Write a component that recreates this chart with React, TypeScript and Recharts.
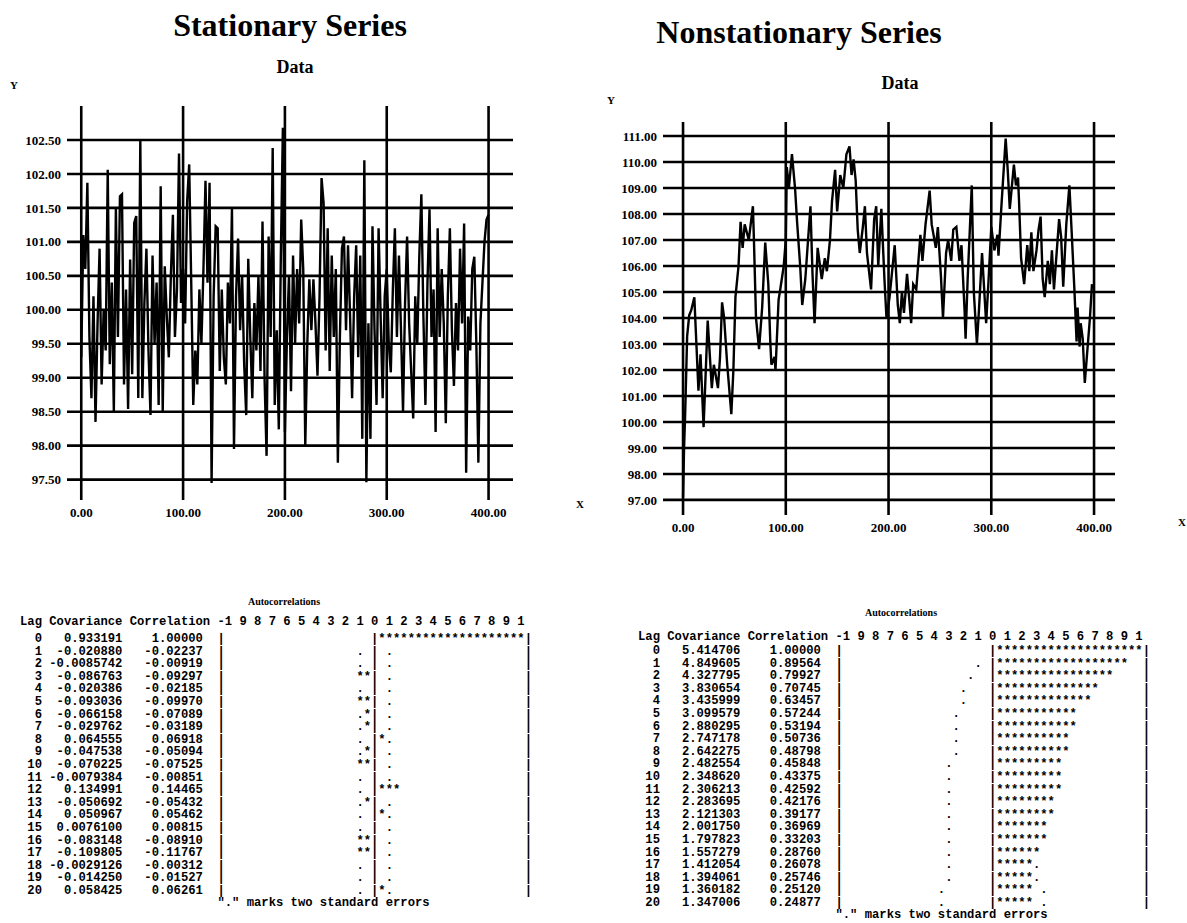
import React from 'react';
import { LineChart, Line, XAxis, YAxis, ReferenceLine } from 'recharts';

const stationaryT = [
  0, 2, 4, 6, 8, 10, 12, 14, 16, 18, 20, 22, 24, 26, 28, 30, 32, 34, 36, 38,
  40, 42, 44, 46, 48, 50, 52, 54, 56, 58, 60, 62, 64, 66, 68, 70, 72, 74, 76, 78,
  80, 82, 84, 86, 88, 90, 92, 94, 96, 98, 100, 102, 104, 106, 108, 110, 112, 114, 116, 118,
  120, 122, 124, 126, 128, 130, 132, 134, 136, 138, 140, 142, 144, 146, 148, 150, 152, 154, 156, 158,
  160, 162, 164, 166, 168, 170, 172, 174, 176, 178, 180, 182, 184, 186, 188, 190, 192, 194, 196, 198,
  200, 202, 204, 206, 208, 210, 212, 214, 216, 218, 220, 222, 224, 226, 228, 230, 232, 234, 236, 238,
  240, 242, 244, 246, 248, 250, 252, 254, 256, 258, 260, 262, 264, 266, 268, 270, 272, 274, 276, 278,
  280, 282, 284, 286, 288, 290, 292, 294, 296, 298, 300, 302, 304, 306, 308, 310, 312, 314, 316, 318,
  320, 322, 324, 326, 328, 330, 332, 334, 336, 338, 340, 342, 344, 346, 348, 350, 352, 354, 356, 358,
  360, 362, 364, 366, 368, 370, 372, 374, 376, 378, 380, 382, 384, 386, 388, 390, 392, 394, 396, 398,
  400,
];
const stationaryV = [
  99.3, 101.1, 100.6, 101.87, 99.6, 98.7, 100.2, 98.35, 99.8, 100.9, 98.9, 100.0, 99.4, 102.06, 99.2, 100.4, 98.5, 101.5, 99.6, 101.67,
  101.7, 98.9, 100.3, 98.54, 100.74, 99.05, 101.28, 101.38, 98.7, 102.5, 98.7, 100.1, 100.9, 99.4, 98.45, 100.8, 99.5, 100.4, 98.6, 101.82,
  98.5, 100.64, 99.9, 99.3, 100.5, 101.4, 99.6, 100.3, 102.3, 100.1, 100.6, 99.8, 101.6, 102.14, 100.4, 98.6, 99.4, 98.9, 100.3, 99.5,
  100.6, 101.9, 100.4, 101.87, 97.45, 100.2, 101.23, 101.2, 99.1, 100.3, 99.3, 98.9, 100.4, 99.8, 101.5, 97.95, 100.2, 101.05, 99.7, 100.5,
  99.2, 98.45, 100.75, 99.6, 98.7, 100.1, 99.4, 100.5, 99.1, 101.3, 99.0, 97.85, 101.08, 99.6, 102.38, 98.6, 99.7, 98.24, 100.8, 102.68,
  98.2, 99.6, 100.5, 98.8, 100.8, 99.5, 100.6, 99.8, 101.33, 100.6, 98.0, 99.5, 100.45, 99.7, 100.45, 99.8, 99.03, 100.2, 101.94, 101.57,
  99.4, 101.2, 99.1, 100.8, 99.6, 100.6, 97.75, 99.6, 100.9, 101.08, 99.7, 100.95, 99.9, 98.7, 100.2, 100.95, 99.3, 100.8, 98.1, 102.2,
  97.46, 99.8, 98.1, 101.23, 99.7, 98.6, 101.2, 99.9, 98.7, 100.2, 100.6, 99.5, 99.08, 100.3, 101.2, 99.6, 100.8, 99.7, 98.5, 100.1,
  101.08, 99.8, 99.1, 98.4, 100.2, 99.5, 100.8, 101.7, 99.9, 98.6, 100.4, 101.48, 99.6, 100.3, 98.2, 101.2, 99.6, 100.6, 99.8, 98.33,
  100.2, 101.2, 99.7, 98.88, 100.1, 99.4, 100.9, 99.8, 101.27, 97.6, 99.9, 99.4, 100.6, 100.78, 99.5, 97.75, 99.8, 100.4, 101.0, 101.33,
  101.4,
];

const nonstatT = [
  0, 1, 2, 4, 6, 8, 11, 13, 15, 17, 20, 24, 28, 30, 34, 36, 38, 40, 43, 47,
  49, 51, 54, 56, 58, 60, 64, 68, 69, 71, 74, 77, 80, 83, 85, 86, 89, 90, 93, 95,
  98, 100, 101, 103, 106, 109, 111, 114, 116, 119, 124, 126, 128, 131, 135, 138, 140, 143, 145, 148,
  150, 153, 156, 159, 162, 164, 166, 168, 170, 172, 175, 177, 179, 183, 186, 188, 190, 193, 196, 198,
  201, 206, 209, 211, 213, 215, 218, 220, 222, 224, 227, 231, 233, 236, 240, 242, 246, 248, 251, 253,
  256, 258, 261, 263, 266, 269, 271, 274, 275, 277, 281, 283, 286, 288, 291, 295, 297, 300, 303, 306,
  307, 310, 314, 316, 318, 322, 324, 326, 327, 329, 332, 335, 337, 339, 341, 344, 346, 348, 350, 352,
  355, 357, 359, 361, 366, 368, 370, 373, 376, 378, 381, 383, 384, 386, 387, 389, 391, 393, 396, 398,
];
const nonstatV = [
  97.1, 99.0, 100.2, 103.3, 104.1, 104.3, 104.8, 103.0, 101.2, 102.6, 99.8, 103.9, 101.3, 102.2, 101.3, 102.5, 104.6, 104.0, 102.2, 100.3,
  102.0, 104.8, 106.0, 107.7, 106.7, 107.6, 107.0, 108.3, 107.0, 104.0, 102.8, 104.4, 106.9, 105.3, 103.0, 102.2, 102.5, 102.0, 104.7, 105.2,
  106.0, 107.0, 109.8, 109.0, 110.3, 109.0, 107.7, 106.0, 104.5, 105.5, 108.3, 105.7, 103.8, 106.7, 105.5, 106.3, 105.8, 107.0, 108.5, 109.7,
  108.1, 109.5, 109.0, 110.3, 110.6, 109.5, 110.1, 109.3, 107.4, 106.5, 107.5, 108.3, 106.5, 105.1, 107.8, 108.3, 106.0, 108.2, 105.5, 104.0,
  104.8, 106.8, 104.5, 103.8, 105.0, 104.2, 105.7, 104.8, 103.8, 105.3, 105.1, 107.2, 106.2, 107.6, 108.9, 107.6, 106.7, 107.5, 105.6, 104.0,
  106.5, 107.0, 106.2, 107.4, 107.5, 106.2, 106.8, 104.3, 103.2, 105.5, 109.1, 105.0, 103.0, 104.3, 106.5, 103.8, 105.2, 107.5, 106.6, 107.2,
  106.4, 108.4, 110.9, 109.7, 108.2, 109.9, 109.1, 109.4, 108.5, 106.3, 105.3, 106.8, 105.8, 107.3, 105.8, 106.6, 107.4, 107.9, 105.5, 104.8,
  106.2, 105.3, 106.6, 105.1, 107.8, 107.1, 105.2, 107.6, 109.1, 107.5, 105.0, 103.1, 104.4, 102.9, 103.8, 103.2, 101.5, 102.5, 104.0, 105.3,
];

const xTicks = [0, 100, 200, 300, 400];
const stationaryTicks = [97.5, 98, 98.5, 99, 99.5, 100, 100.5, 101, 101.5, 102, 102.5];
const nonstatTicks = [97, 98, 99, 100, 101, 102, 103, 104, 105, 106, 107, 108, 109, 110, 111];

// autocorrelation tables
const lags = [0, 1, 2, 3, 4, 5, 6, 7, 8, 9, 10, 11, 12, 13, 14, 15, 16, 17, 18, 19, 20];
const stationaryCov = [
  '0.933191', '-0.020880', '-0.0085742', '-0.086763', '-0.020386', '-0.093036', '-0.066158',
  '-0.029762', '0.064555', '-0.047538', '-0.070225', '-0.0079384', '0.134991', '-0.050692',
  '0.050967', '0.0076100', '-0.083148', '-0.109805', '-0.0029126', '-0.014250', '0.058425',
];
const stationaryCorr = [
  1.0, -0.02237, -0.00919, -0.09297, -0.02185, -0.0997, -0.07089, -0.03189, 0.06918, -0.05094, -0.07525,
  -0.00851, 0.14465, -0.05432, 0.05462, 0.00815, -0.0891, -0.11767, -0.00312, -0.01527, 0.06261,
];
// position (in plot columns) of the "." two-standard-error marks
const stationarySe = [0, 2, 2, 2, 2, 2, 2, 2, 2, 2, 2, 2, 2, 2, 2, 2, 2, 2, 2, 2, 2];

const nonstatCov = [
  '5.414706', '4.849605', '4.327795', '3.830654', '3.435999', '3.099579', '2.880295',
  '2.747178', '2.642275', '2.482554', '2.348620', '2.306213', '2.283695', '2.121303',
  '2.001750', '1.797823', '1.557279', '1.412054', '1.394061', '1.360182', '1.347006',
];
const nonstatCorr = [
  1.0, 0.89564, 0.79927, 0.70745, 0.63457, 0.57244, 0.53194, 0.50736, 0.48798, 0.45848, 0.43375,
  0.42592, 0.42176, 0.39177, 0.36969, 0.33203, 0.2876, 0.26078, 0.25746, 0.2512, 0.24877,
];
const nonstatSe = [0, 2, 3, 4, 4, 5, 5, 5, 5, 6, 6, 6, 6, 6, 6, 6, 6, 6, 6, 7, 7];

const stationaryData = stationaryT.map((t, i) => ({ t, v: stationaryV[i] }));
const nonstatData = nonstatT.map((t, i) => ({ t, v: nonstatV[i] }));

const tickStyle = { fontFamily: '"Liberation Serif"', fontWeight: 700, fontSize: 13, fill: '#000' };
const serif = '"Liberation Serif", "Times New Roman", serif';

const HEADER = 'Lag Covariance Correlation -1 9 8 7 6 5 4 3 2 1 0 1 2 3 4 5 6 7 8 9 1';

function plotRow(lag: number, cov: string, corr: number, se: number) {
  const left = Array(20).fill(' ');
  const right = Array(20).fill(' ');
  if (se > 0) {
    left[20 - se] = '.';
    right[se - 1] = '.';
  }
  const n = Math.round(Math.abs(corr) * 20);
  for (let i = 0; i < n; i++) {
    if (corr < 0) left[19 - i] = '*';
    else right[i] = '*';
  }
  const prefix =
    String(lag).padStart(3) + ' ' + cov.padStart(10) + '  ' + corr.toFixed(5).padStart(9) + '  ';
  return prefix + '|' + left.join('') + '|' + right.join('') + '|';
}

const mono: React.CSSProperties = {
  margin: 0,
  fontFamily: '"Liberation Mono", monospace',
  fontWeight: 700,
  fontSize: 12.2,
  lineHeight: '12.6px',
  color: '#000',
  whiteSpace: 'pre',
  position: 'absolute',
};

function AcfTable(props: {
  left: number;
  headerTop: number;
  rowsTop: number;
  titleLeft: number;
  titleTop: number;
  cov: string[];
  corr: number[];
  se: number[];
}) {
  const rows = lags.map((lag, i) => plotRow(lag, props.cov[i], props.corr[i], props.se[i]));
  rows.push(' '.repeat(27) + '"." marks two standard errors');
  return (
    <>
      <div
        style={{
          position: 'absolute',
          left: props.titleLeft,
          top: props.titleTop,
          fontFamily: serif,
          fontWeight: 700,
          fontSize: 10,
        }}
      >
        Autocorrelations
      </div>
      <pre style={{ ...mono, left: props.left, top: props.headerTop }}>{HEADER}</pre>
      <pre style={{ ...mono, left: props.left, top: props.rowsTop }}>{rows.join('\n')}</pre>
    </>
  );
}

function SeriesChart(props: {
  data: { t: number; v: number }[];
  width: number;
  height: number;
  margin: { top: number; right: number; bottom: number; left: number };
  xDomain: [number, number];
  yDomain: [number, number];
  yTicks: number[];
}) {
  return (
    <LineChart width={props.width} height={props.height} data={props.data} margin={props.margin}>
      <XAxis
        type="number"
        dataKey="t"
        domain={props.xDomain}
        ticks={xTicks}
        interval={0}
        allowDataOverflow
        axisLine={false}
        tickLine={false}
        tickMargin={2}
        height={30}
        tick={tickStyle}
        tickFormatter={(v: number) => v.toFixed(2)}
      />
      <YAxis
        type="number"
        domain={props.yDomain}
        ticks={props.yTicks}
        interval={0}
        allowDataOverflow
        axisLine={false}
        tickLine={false}
        tickMargin={0}
        width={60}
        tick={tickStyle}
        tickFormatter={(v: number) => v.toFixed(2)}
      />
      {props.yTicks.map((y) => (
        <ReferenceLine key={'h' + y} y={y} stroke="#000" strokeWidth={2.6} />
      ))}
      {xTicks.map((x) => (
        <ReferenceLine key={'v' + x} x={x} stroke="#000" strokeWidth={2.6} />
      ))}
      <Line
        type="linear"
        dataKey="v"
        stroke="#000"
        strokeWidth={2.4}
        dot={false}
        isAnimationActive={false}
      />
    </LineChart>
  );
}

const label = (text: string, x: number, y: number, size: number): React.ReactNode => (
  <div
    style={{
      position: 'absolute',
      left: x,
      top: y,
      transform: 'translate(-50%, -50%)',
      fontFamily: serif,
      fontWeight: 700,
      fontSize: size,
      whiteSpace: 'nowrap',
      lineHeight: 1,
    }}
  >
    {text}
  </div>
);

export default function App() {
  return (
    <div
      style={{
        position: 'absolute',
        left: 0,
        top: 0,
        width: 1187,
        height: 923,
        background: '#fff',
        overflow: 'hidden',
      }}
    >
      {label('Stationary Series', 290, 25, 32)}
      {label('Data', 295, 67, 18)}
      {label('Y', 14, 85, 11)}
      {label('X', 580, 504, 11)}
      <div style={{ position: 'absolute', left: 0, top: 0 }}>
        <SeriesChart
          data={stationaryData}
          width={580}
          height={540}
          margin={{ top: 106, right: 67, bottom: 10, left: 7 }}
          xDomain={[-14, 424]}
          yDomain={[97.2, 103.0]}
          yTicks={stationaryTicks}
        />
      </div>

      {label('Nonstationary Series', 799, 32, 32)}
      {label('Data', 900, 83, 18)}
      {label('Y', 611, 100, 11)}
      {label('X', 1182, 522, 11)}
      <div style={{ position: 'absolute', left: 580, top: 0 }}>
        <SeriesChart
          data={nonstatData}
          width={607}
          height={560}
          margin={{ top: 122, right: 72, bottom: 15, left: 23 }}
          xDomain={[-19.5, 420.4]}
          yDomain={[96.42, 111.54]}
          yTicks={nonstatTicks}
        />
      </div>

      <AcfTable
        left={20}
        headerTop={616}
        rowsTop={633}
        titleLeft={248}
        titleTop={596}
        cov={stationaryCov}
        corr={stationaryCorr}
        se={stationarySe}
      />
      <AcfTable
        left={638}
        headerTop={631}
        rowsTop={645}
        titleLeft={865}
        titleTop={607}
        cov={nonstatCov}
        corr={nonstatCorr}
        se={nonstatSe}
      />
    </div>
  );
}
